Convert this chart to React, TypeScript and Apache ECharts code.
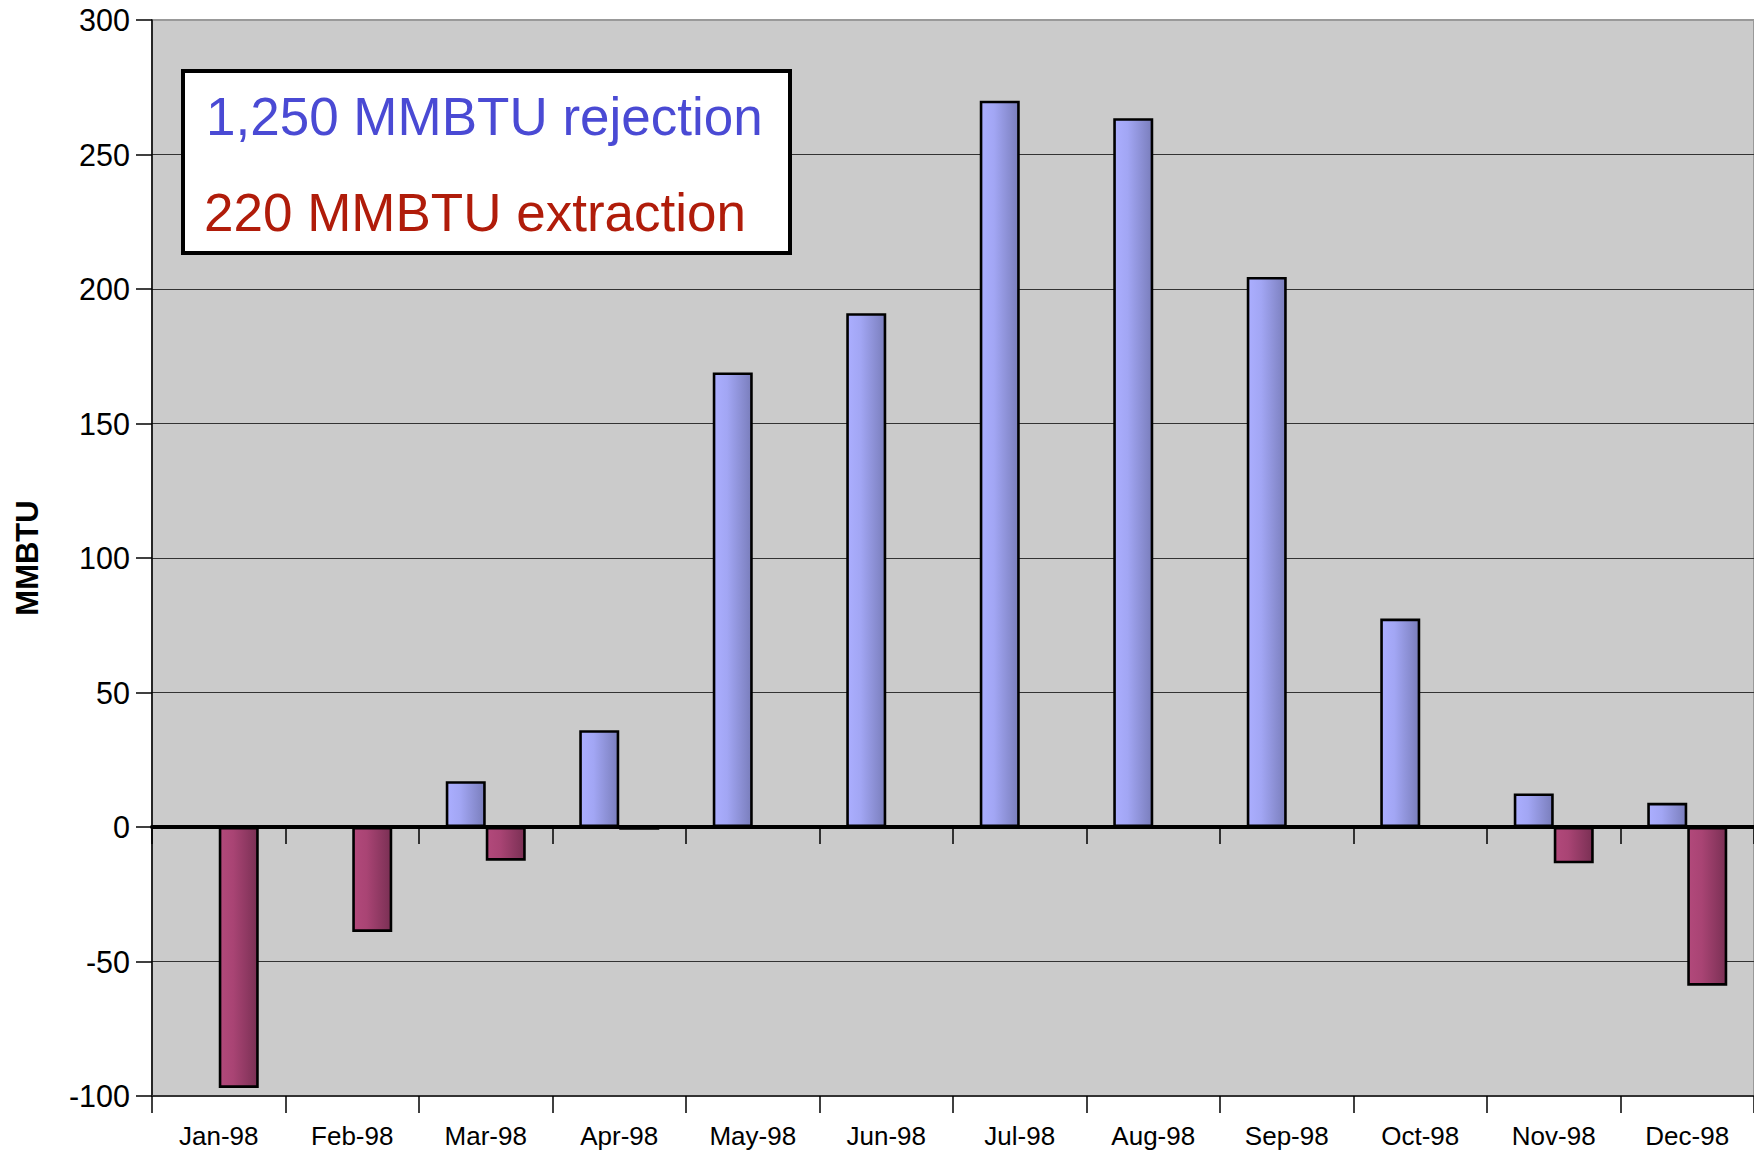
import React, { useEffect, useRef } from "react";
import * as echarts from "echarts";

const months = ["Jan-98", "Feb-98", "Mar-98", "Apr-98", "May-98", "Jun-98", "Jul-98", "Aug-98", "Sep-98", "Oct-98", "Nov-98", "Dec-98"];
const rejection = [0, 0, 17, 36, 169, 191, 270, 263.5, 204.5, 77.5, 12.5, 9];
const extraction = [-97, -39, -12.5, -1, 0, 0, 0, 0, 0, 0, -13.5, -59];
const legendLines = ["1,250 MMBTU rejection", "220 MMBTU extraction"];
const yTitle = "MMBTU";

export default function App() {
  const ref = useRef<HTMLDivElement>(null);
  useEffect(() => {
    if (!ref.current) return;
    const chart = echarts.init(ref.current, null, { renderer: "svg" });
    const font = "'Liberation Sans', Arial, sans-serif";
    const blueGrad = new echarts.graphic.LinearGradient(0, 0, 1, 0, [
      { offset: 0, color: "#ABAEFF" },
      { offset: 0.35, color: "#A2A6F4" },
      { offset: 1, color: "#7A7EBC" },
    ]);
    const redGrad = new echarts.graphic.LinearGradient(0, 0, 1, 0, [
      { offset: 0, color: "#B2497B" },
      { offset: 0.35, color: "#A94474" },
      { offset: 1, color: "#7A3054" },
    ]);
    chart.setOption({
      animation: false,
      backgroundColor: "#FFFFFF",
      textStyle: { fontFamily: font },
      grid: {
        left: 152,
        top: 20,
        width: 1606,
        bottom: 56,
        show: true,
        backgroundColor: "#CBCBCB",
        borderColor: "#999999",
        borderWidth: 2,
      },
      xAxis: [
        {
          type: "category",
          data: months,
          position: "bottom",
          axisLine: { onZero: false, lineStyle: { color: "#333333", width: 2 } },
          axisTick: { show: true, length: 17, lineStyle: { color: "#000000", width: 1.5 } },
          axisLabel: { fontSize: 26, color: "#000000", margin: 27, fontFamily: font },
          splitLine: { show: false },
        },
        {
          type: "category",
          data: months,
          position: "top",
          axisLine: { onZero: true, lineStyle: { color: "#000000", width: 4 } },
          axisTick: { show: true, inside: true, length: 17, lineStyle: { color: "#000000", width: 1.5 } },
          axisLabel: { show: false },
          splitLine: { show: false },
        },
      ],
      yAxis: {
        type: "value",
        min: -100,
        max: 300,
        interval: 50,
        name: yTitle,
        nameLocation: "middle",
        nameRotate: 90,
        nameGap: 109,
        nameTextStyle: { fontSize: 31, fontWeight: "bold", color: "#000000", fontFamily: font },
        axisLine: { show: true, lineStyle: { color: "#000000", width: 1.5 } },
        axisTick: { show: true, length: 16, lineStyle: { color: "#000000", width: 1.5 } },
        axisLabel: { fontSize: 30.5, color: "#000000", margin: 22, fontFamily: font },
        splitLine: { show: true, showMaxLine: false, lineStyle: { color: "#333333", width: 1.2 } },
      },
      series: [
        {
          name: legendLines[0],
          type: "bar",
          xAxisIndex: 0,
          data: rejection,
          barWidth: 40,
          barGap: "0%",
          itemStyle: { color: blueGrad, borderColor: "#000000", borderWidth: 2.6 },
        },
        {
          name: legendLines[1],
          type: "bar",
          xAxisIndex: 0,
          data: extraction,
          barWidth: 40,
          barGap: "0%",
          itemStyle: { color: redGrad, borderColor: "#000000", borderWidth: 2.6 },
        },
      ],
      graphic: [
        {
          type: "rect",
          z: 100,
          shape: { x: 183, y: 71, width: 607, height: 182 },
          style: { fill: "#FFFFFF", stroke: "#000000", lineWidth: 4 },
        },
        {
          type: "text",
          z: 101,
          x: 206,
          y: 116,
          style: { text: legendLines[0], fill: "#4A4AD4", font: `53px ${font}`, verticalAlign: "middle", align: "left" },
        },
        {
          type: "text",
          z: 101,
          x: 204,
          y: 212,
          style: { text: legendLines[1], fill: "#B01C0A", font: `53px ${font}`, verticalAlign: "middle", align: "left" },
        },
      ],
    });
    return () => chart.dispose();
  }, []);
  return <div ref={ref} style={{ position: "absolute", left: 0, top: 0, width: 1754, height: 1152 }} />;
}
